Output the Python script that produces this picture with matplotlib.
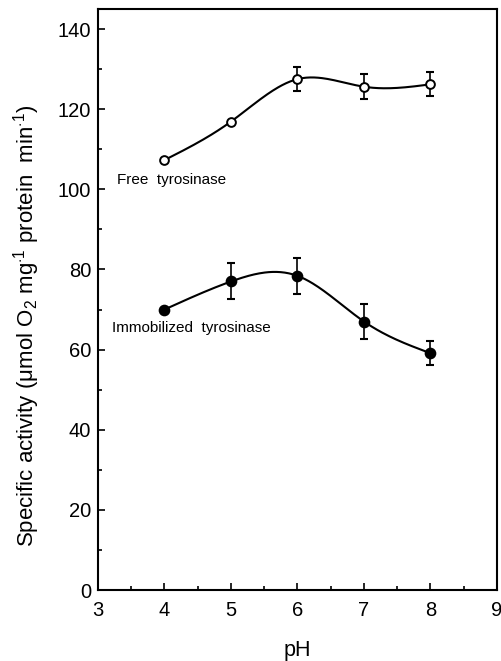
import numpy as np
import matplotlib
matplotlib.use("Agg")
import matplotlib.pyplot as plt
from matplotlib.ticker import MultipleLocator

plt.rcParams['font.family'] = ['Liberation Sans', 'DejaVu Sans']
plt.rcParams['mathtext.fontset'] = 'custom'
plt.rcParams['mathtext.rm'] = 'Liberation Sans'
plt.rcParams['mathtext.it'] = 'Liberation Sans'

ph = [4, 5, 6, 7, 8]
free_activity = [107.3, 116.9, 127.5, 125.6, 126.2]
free_err = [0, 0, 3.0, 3.1, 3.0]
immob_activity = [70.0, 77.0, 78.4, 67.0, 59.1]
immob_err = [0, 4.5, 4.5, 4.3, 3.0]


def natural_spline(x, y, n=200):
    x = np.asarray(x, float)
    y = np.asarray(y, float)
    k = len(x)
    h = np.diff(x)
    A = np.zeros((k, k))
    b = np.zeros(k)
    A[0, 0] = 1
    A[-1, -1] = 1
    for i in range(1, k - 1):
        A[i, i - 1] = h[i - 1]
        A[i, i] = 2 * (h[i - 1] + h[i])
        A[i, i + 1] = h[i]
        b[i] = 6 * ((y[i + 1] - y[i]) / h[i] - (y[i] - y[i - 1]) / h[i - 1])
    M = np.linalg.solve(A, b)
    xs = np.linspace(x[0], x[-1], n)
    ys = np.empty_like(xs)
    for j, t in enumerate(xs):
        i = min(np.searchsorted(x, t, side='right') - 1, k - 2)
        a = x[i + 1] - t
        c = t - x[i]
        ys[j] = (M[i] * a**3 + M[i + 1] * c**3) / (6 * h[i]) \
            + (y[i] / h[i] - M[i] * h[i] / 6) * a \
            + (y[i + 1] / h[i] - M[i + 1] * h[i] / 6) * c
    return xs, ys


fig = plt.figure(figsize=(5.02, 6.61), dpi=100)
ax = fig.add_axes([0.1952, 0.1074, 0.7948, 0.879])

for yv, err, face, ms in [(free_activity, free_err, 'white', 6.3),
                          (immob_activity, immob_err, 'black', 7)]:
    xs, ys = natural_spline(ph, yv)
    ax.plot(xs, ys, color='black', lw=1.5, zorder=2)
    e = np.array(err)
    mask = e > 0
    ax.errorbar(np.array(ph)[mask], np.array(yv)[mask], yerr=e[mask],
                fmt='none', ecolor='black', elinewidth=1.2, capsize=3,
                capthick=1.5, zorder=3)
    ax.plot(ph, yv, 'o', ms=ms, mfc=face, mec='black', mew=1.4, zorder=4)

ax.text(3.29, 102.3, 'Free  tyrosinase', fontsize=11, va='center', ha='left')
ax.text(3.21, 65.4, 'Immobilized  tyrosinase', fontsize=11, va='center', ha='left')

ax.set_xlim(3, 9)
ax.set_ylim(0, 145)
ax.set_xticks([3, 4, 5, 6, 7, 8, 9])
ax.set_yticks([0, 20, 40, 60, 80, 100, 120, 140])
ax.xaxis.set_minor_locator(MultipleLocator(0.5))
ax.yaxis.set_minor_locator(MultipleLocator(10))
ax.tick_params(which='both', direction='in', top=False, right=False,
               labelsize=14.5, width=1.2)
ax.tick_params(which='major', length=5)
ax.tick_params(which='minor', length=3)
ax.tick_params(axis='x', pad=8)
ax.tick_params(axis='y', pad=5)
for s in ax.spines.values():
    s.set_linewidth(1.5)

ax.set_xlabel('pH', fontsize=15.5, labelpad=14)
ax.set_ylabel(r'Specific activity ($\mu$mol O$_2$ mg$^{\cdot1}$ protein  min$^{\cdot1}$)',
              fontsize=16, labelpad=5)
ax.yaxis.set_label_coords(-0.14, 0.455)

fig.savefig('out.png', dpi=100)
